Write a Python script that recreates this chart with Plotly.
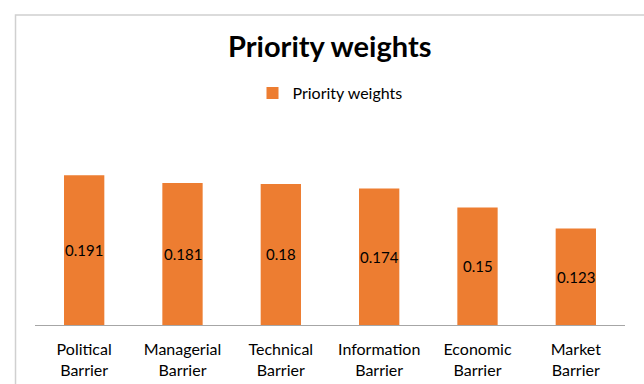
import plotly.graph_objects as go

categories = ["Political<br>Barrier", "Managerial<br>Barrier", "Technical<br>Barrier",
              "Information<br>Barrier", "Economic<br>Barrier", "Market<br>Barrier"]
weights = [0.191, 0.181, 0.18, 0.174, 0.15, 0.123]
labels = ["0.191", "0.181", "0.18", "0.174", "0.15", "0.123"]

FONT = "Lato"
W, H = 644, 384
L, R, T, B = 34.5, 19, 129, 59
pw, ph = W - L - R, H - T - B

fig = go.Figure(go.Bar(
    x=categories, y=weights, name="Priority weights",
    marker=dict(color="#ED7D31", line=dict(width=0)),
))

annotations = [dict(x=c, y=v / 2, xref="x", yref="y", text=t, showarrow=False,
                    font=dict(family=FONT, size=15, color="#000000"),
                    xanchor="center", yanchor="middle")
               for c, v, t in zip(categories, weights, labels)]

fig.update_layout(
    width=W, height=H,
    margin=dict(l=L, r=R, t=T, b=B, autoexpand=False),
    paper_bgcolor="white", plot_bgcolor="white",
    bargap=0.59,
    showlegend=True,
    title=dict(text="<b>Priority weights</b>", x=(L + pw / 2) / W, xanchor="center",
               y=1 - 47 / H, yanchor="middle", yref="container",
               font=dict(family=FONT, size=29, color="#000000")),
    legend=dict(orientation="h", x=0.5, xanchor="center", y=(325 - 93) / ph, yanchor="middle",
                font=dict(family=FONT, size=16, color="#000000"), bgcolor="rgba(0,0,0,0)"),
    xaxis=dict(showline=True, linecolor="#a6a6a6", linewidth=1.3, ticks="",
               ticklabelstandoff=10, automargin=False,
               tickfont=dict(family=FONT, size=16, color="#000000"), showgrid=False),
    yaxis=dict(range=[0, 0.25], visible=False, showgrid=False, zeroline=False, automargin=False),
    annotations=annotations,
    shapes=[dict(type="rect", xref="paper", yref="paper",
                 x0=(15 - L) / pw, x1=(700 - L) / pw,
                 y0=(325 - 450) / ph, y1=(325 - 15) / ph,
                 line=dict(color="#d0d0d0", width=1.5), fillcolor="rgba(0,0,0,0)",
                 layer="below")],
)

fig.write_html("out.html")
